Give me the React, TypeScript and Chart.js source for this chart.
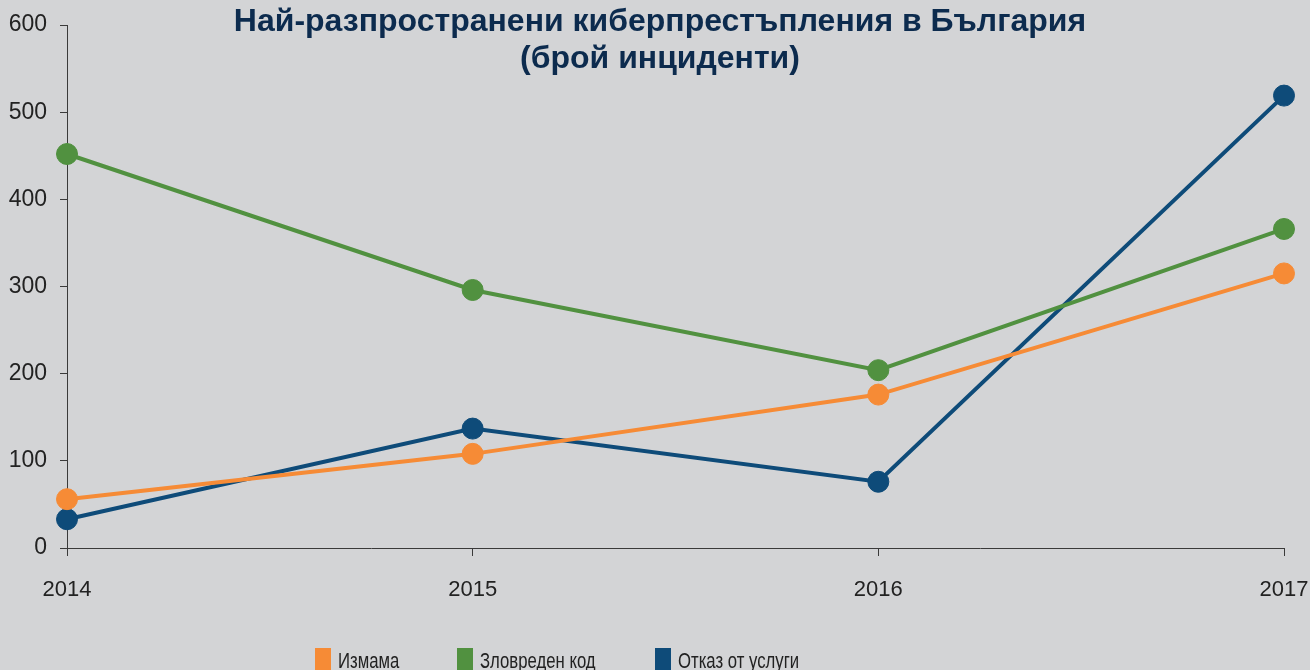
import React, { useEffect, useRef } from "react";
import { Chart, registerables } from "chart.js";

Chart.register(...registerables);

const years = ["2014", "2015", "2016", "2017"];
const fraud = [56, 108, 176, 315];
const malware = [452, 296, 204, 366];
const dos = [33, 137, 76, 519];
const seriesNames = ["Измама", "Зловреден код", "Отказ от услуги"];
const titleLines = ["Най-разпространени киберпрестъпления в България", "(брой инциденти)"];

const BG = "#d3d4d6";
const COLORS = ["#f68b36", "#519140", "#0e4b79"];

const overlayPlugin = {
  id: "overlay",
  afterDraw(chart: any) {
    const ctx = chart.ctx;
    ctx.save();
    ctx.fillStyle = "#0c2b4e";
    ctx.font = "bold 32px 'Liberation Sans', Arial, sans-serif";
    ctx.textAlign = "center";
    ctx.textBaseline = "alphabetic";
    ctx.fillText(titleLines[0], 660, 31);
    ctx.fillText(titleLines[1], 660, 68);
    // legend
    const boxX = [315, 457, 655];
    ctx.font = "22px 'Liberation Sans', Arial, sans-serif";
    ctx.textAlign = "left";
    chart.data.datasets.forEach((ds: any, i: number) => {
      ctx.fillStyle = ds.borderColor;
      ctx.fillRect(boxX[i], 648, 16, 24);
      ctx.fillStyle = "#222";
      const tx = boxX[i] + 23;
      ctx.save();
      ctx.translate(tx, 668);
      ctx.scale(0.76, 1);
      ctx.fillText(ds.label, 0, 0);
      ctx.restore();
    });
    ctx.restore();
  },
};

const bgPlugin = {
  id: "bg",
  beforeDraw(chart: any) {
    const ctx = chart.ctx;
    ctx.save();
    ctx.fillStyle = BG;
    ctx.fillRect(0, 0, chart.width, chart.height);
    ctx.restore();
  },
};

export default function App() {
  const ref = useRef<HTMLCanvasElement>(null);
  useEffect(() => {
    document.body.style.margin = "0";
    document.body.style.background = BG;
    const values = [fraud, malware, dos];
    const chart = new Chart(ref.current!, {
      type: "line",
      data: {
        labels: years,
        datasets: values.map((v, i) => ({
          label: seriesNames[i],
          data: v,
          borderColor: COLORS[i],
          backgroundColor: COLORS[i],
          pointBackgroundColor: COLORS[i],
          pointBorderColor: COLORS[i],
          pointRadius: 10.5,
          pointBorderWidth: 1,
          borderWidth: 4,
          tension: 0,
          fill: false,
        })),
      },
      options: {
        animation: false,
        responsive: false,
        layout: { padding: { top: 25, right: 26, left: 0, bottom: 0 } },
        plugins: {
          legend: { display: false },
          title: { display: false },
          tooltip: { enabled: false },
        },
        scales: {
          x: {
            type: "category",
            offset: false,
            border: { display: true, color: "#3a3a3a", width: 1 },
            grid: { display: true, drawOnChartArea: false, drawTicks: true, tickLength: 8, color: "#3a3a3a" },
            ticks: { color: "#222", font: { family: "'Liberation Sans', Arial, sans-serif", size: 22 }, padding: 21, maxRotation: 0 },
            afterFit: (scale: any) => {
              scale.height = 122;
              scale.paddingLeft = 0;
              scale.paddingRight = 0;
            },
          },
          y: {
            min: 0,
            max: 600,
            border: { display: true, color: "#3a3a3a", width: 1 },
            grid: { display: true, drawOnChartArea: false, drawTicks: true, tickLength: 7, color: "#3a3a3a" },
            ticks: { stepSize: 100, color: "#222", font: { family: "'Liberation Sans', Arial, sans-serif", size: 23 }, padding: 13 },
            afterFit: (scale: any) => {
              scale.width = 67;
              scale.paddingTop = 0;
              scale.paddingBottom = 0;
            },
          },
        },
      },
      plugins: [bgPlugin, overlayPlugin],
    });
    return () => chart.destroy();
  }, []);
  return (
    <div style={{ width: 1310, height: 670 }}>
      <canvas ref={ref} width={1310} height={670} style={{ display: "block", width: 1310, height: 670 }} />
    </div>
  );
}
